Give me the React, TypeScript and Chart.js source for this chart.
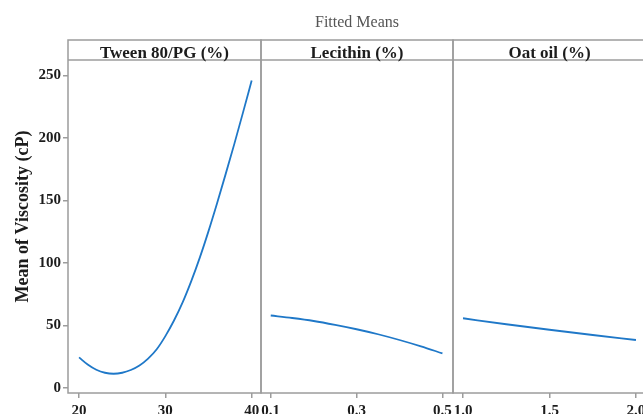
import { useEffect, useRef } from 'react';
import { Chart, registerables } from 'chart.js';

Chart.register(...registerables);

// Fitted mean viscosity for each formulation factor
const tweenLevels = [20, 21, 22, 23, 24, 25, 26, 27, 28, 29, 30, 31, 32, 33, 34, 35, 36, 37, 38, 39, 40];
const tweenViscosity = [24.5, 18.8, 14.6, 12.2, 11.4, 12.2, 14.4, 18, 23.5, 31, 41.5, 54, 68.5, 85.5, 104.5, 125.5, 148, 171.5, 195.5, 220.5, 246];

const lecithinLevels = [0.1, 0.15, 0.2, 0.25, 0.3, 0.35, 0.4, 0.45, 0.5];
const lecithinViscosity = [58, 56, 53.6, 50.5, 47, 43, 38.4, 33.3, 27.7];

const oatOilLevels = [1.0, 1.25, 1.5, 1.75, 2.0];
const oatOilViscosity = [55.8, 51, 46.6, 42.4, 38.4];

const yTicks = [0, 50, 100, 150, 200, 250];
const tweenTicks = [20, 30, 40];
const tweenTickLabels = ['20', '30', '40'];
const lecithinTicks = [0.1, 0.3, 0.5];
const lecithinTickLabels = ['0.1', '0.3', '0.5'];
const oatOilTicks = [1.0, 1.5, 2.0];
const oatOilTickLabels = ['1.0', '1.5', '2.0'];

const panelTitles = ['Tween 80/PG (%)', 'Lecithin (%)', 'Oat oil (%)'];
const chartTitle = 'Fitted Means';
const yTitle = 'Mean of Viscosity (cP)';

const CANVAS_W = 660;
const CANVAS_H = 414;
const SERIF = '"Liberation Serif", "Times New Roman", serif';
const FRAME = '#9c9c9c';
const LINE = '#1f78c8';
const INK = '#1c1c1c';

type Panel = {
  title: string;
  xs: number[];
  ys: number[];
  ticks: number[];
  labels: string[];
  xMin: number;
  xMax: number;
  left: number;
  right: number;
  showY: boolean;
  mainTitle?: string;
};

const panels: Panel[] = [
  { title: panelTitles[0], xs: tweenLevels, ys: tweenViscosity, ticks: tweenTicks, labels: tweenTickLabels, xMin: 18.72, xMax: 41.08, left: 68, right: 261, showY: true },
  { title: panelTitles[1], xs: lecithinLevels, ys: lecithinViscosity, ticks: lecithinTicks, labels: lecithinTickLabels, xMin: 0.0773, xMax: 0.5246, left: 261, right: 453, showY: false, mainTitle: chartTitle },
  { title: panelTitles[2], xs: oatOilLevels, ys: oatOilViscosity, ticks: oatOilTicks, labels: oatOilTickLabels, xMin: 0.942, xMax: 2.058, left: 453, right: 646, showY: false },
];

// Panel box, header strip with the factor name, and the overall title
const panelFrame = {
  id: 'panelFrame',
  afterDraw(chart: any, _args: any, opts: any) {
    const { ctx, chartArea } = chart;
    const { left, right, top, bottom } = chartArea;
    ctx.save();
    ctx.strokeStyle = FRAME;
    ctx.lineWidth = 1.5;
    ctx.strokeRect(left, top, right - left, bottom - top);
    ctx.beginPath();
    ctx.moveTo(left, top + 20);
    ctx.lineTo(right, top + 20);
    ctx.stroke();
    ctx.fillStyle = INK;
    ctx.font = `bold 17px ${SERIF}`;
    ctx.textAlign = 'center';
    ctx.textBaseline = 'alphabetic';
    ctx.fillText(opts.title, (left + right) / 2, top + 17.5);
    if (opts.mainTitle) {
      ctx.fillStyle = '#555555';
      ctx.font = `16px ${SERIF}`;
      ctx.fillText(opts.mainTitle, (left + right) / 2, 27);
    }
    ctx.restore();
  },
};

function PanelChart({ panel }: { panel: Panel }) {
  const ref = useRef<HTMLCanvasElement | null>(null);

  useEffect(() => {
    if (!ref.current) return;
    const chart = new Chart(ref.current, {
      type: 'line',
      data: {
        datasets: [
          {
            data: panel.xs.map((x, i) => ({ x, y: panel.ys[i] })),
            borderColor: LINE,
            borderWidth: 1.8,
            pointRadius: 0,
            cubicInterpolationMode: 'monotone',
            fill: false,
          },
        ],
      },
      options: {
        responsive: false,
        animation: false,
        events: [],
        layout: {
          padding: { left: panel.showY ? 0 : panel.left, right: CANVAS_W - panel.right, top: 40, bottom: 0 },
        },
        plugins: {
          legend: { display: false },
          tooltip: { enabled: false },
          title: { display: false },
          panelFrame: { title: panel.title, mainTitle: panel.mainTitle },
        } as any,
        scales: {
          x: {
            type: 'linear',
            min: panel.xMin,
            max: panel.xMax,
            afterBuildTicks: (s: any) => {
              s.ticks = panel.ticks.map((v) => ({ value: v }));
            },
            afterFit: (s: any) => {
              s.height = 21;
            },
            grid: { display: true, drawOnChartArea: false, drawTicks: true, tickLength: 5, color: FRAME, lineWidth: 1.5 },
            border: { display: false },
            ticks: {
              autoSkip: false,
              maxRotation: 0,
              padding: 4,
              color: INK,
              font: { family: SERIF, size: 15, weight: 'bold' },
              callback: (_v: any, i: number) => panel.labels[i],
            },
          },
          y: {
            type: 'linear',
            display: panel.showY,
            min: -4,
            max: 278.4,
            afterBuildTicks: (s: any) => {
              s.ticks = yTicks.map((v) => ({ value: v }));
            },
            afterFit: (s: any) => {
              s.width = panel.showY ? panel.left : 0;
            },
            grid: { display: true, drawOnChartArea: false, drawTicks: true, tickLength: 5, color: FRAME, lineWidth: 1.5 },
            border: { display: false },
            ticks: {
              autoSkip: false,
              padding: 2,
              color: INK,
              font: { family: SERIF, size: 15, weight: 'bold' },
              callback: (v: any) => String(v),
            },
            title: {
              display: true,
              text: yTitle,
              color: INK,
              font: { family: SERIF, size: 18, weight: 'bold' },
              padding: { top: 13, bottom: 0 },
            },
          },
        },
      },
      plugins: [panelFrame],
    });
    return () => chart.destroy();
  }, [panel]);

  return (
    <canvas
      ref={ref}
      width={CANVAS_W}
      height={CANVAS_H}
      style={{ position: 'absolute', left: 0, top: 0, width: CANVAS_W, height: CANVAS_H }}
    />
  );
}

export default function App() {
  return (
    <div
      style={{
        position: 'fixed',
        left: 0,
        top: 0,
        width: 643,
        height: 414,
        overflow: 'hidden',
        background: '#ffffff',
      }}
    >
      {panels.map((p) => (
        <PanelChart key={p.title} panel={p} />
      ))}
    </div>
  );
}
